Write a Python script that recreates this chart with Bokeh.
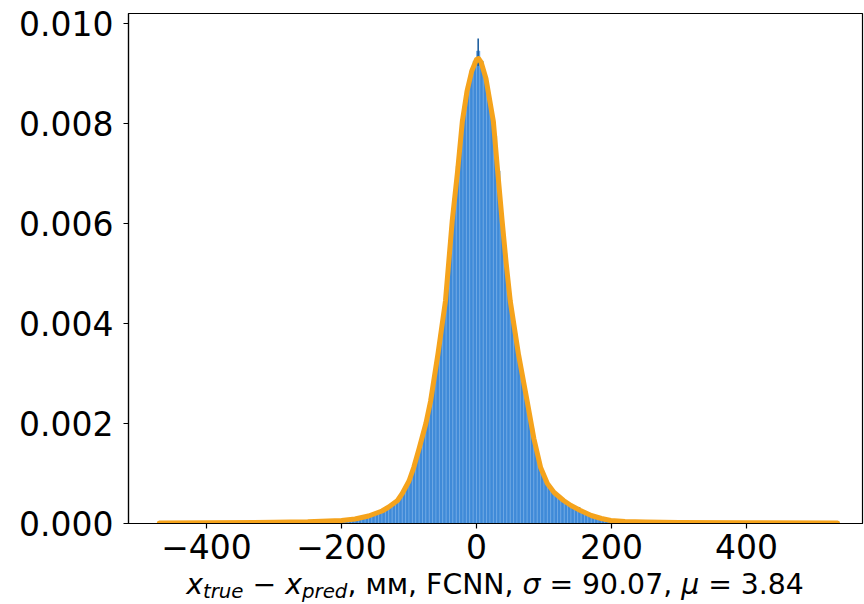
import numpy as np
from bokeh.plotting import figure
from bokeh.models import Range1d, FixedTicker, PrintfTickFormatter, Div, ColumnDataSource
from bokeh.layouts import column
from bokeh.embed import file_html
from bokeh.resources import INLINE

# ---- data ----
bin_start = -470.0
bin_width = 5.0
density = [
    0.00001, 0.00001, 0.00002, 0.00001, 0.00001, 0.00002, 0.00001, 0.00002, 0.00001, 0.00002,
    0.00002, 0.00001, 0.00002, 0.00002, 0.00001, 0.00002, 0.00002, 0.00002, 0.00001, 0.00002,
    0.00002, 0.00002, 0.00002, 0.00002, 0.00003, 0.00002, 0.00002, 0.00003, 0.00002, 0.00003,
    0.00003, 0.00002, 0.00003, 0.00003, 0.00003, 0.00003, 0.00003, 0.00003, 0.00004, 0.00003,
    0.00004, 0.00004, 0.00004, 0.00004,
    0.00004, 0.00004, 0.00004, 0.00005, 0.00005, 0.00005, 0.00005, 0.00006, 0.00006, 0.00006,
    0.00007, 0.00007, 0.00008, 0.00009, 0.00010, 0.00011, 0.00013, 0.00014, 0.00016, 0.00018,
    0.00021, 0.00023, 0.00027, 0.00031, 0.00035, 0.00040, 0.00046, 0.00055, 0.00064, 0.00076,
    0.00093, 0.00112, 0.00135, 0.00160, 0.00185, 0.00215, 0.00250, 0.00290, 0.00335, 0.00380,
    0.00430, 0.00495, 0.00580, 0.00650, 0.00715, 0.00785, 0.00835, 0.00875, 0.00905, 0.00925,
    0.00945, 0.00925, 0.00895, 0.00862, 0.00825, 0.00775, 0.00705, 0.00615, 0.00540, 0.00475,
    0.00420, 0.00380, 0.00340, 0.00295, 0.00260, 0.00225, 0.00190, 0.00155, 0.00125, 0.00100,
    0.00088, 0.00072, 0.00063, 0.00057, 0.00052, 0.00047, 0.00043, 0.00038, 0.00034, 0.00030,
    0.00027, 0.00023, 0.00020, 0.00017, 0.00014, 0.00012, 0.00010, 0.00009, 0.00007, 0.00006,
    0.00006, 0.00005, 0.00005, 0.00004, 0.00004, 0.00004, 0.00003, 0.00003, 0.00003, 0.00003,
    0.00003, 0.00003, 0.00002, 0.00003, 0.00002, 0.00002, 0.00003, 0.00002, 0.00002, 0.00002,
    0.00002, 0.00002, 0.00002, 0.00002, 0.00002, 0.00001, 0.00002, 0.00002, 0.00002, 0.00001,
    0.00002, 0.00001, 0.00002, 0.00001, 0.00001, 0.00002, 0.00001, 0.00001, 0.00002, 0.00001,
    0.00001, 0.00001, 0.00001, 0.00002, 0.00001, 0.00001, 0.00001, 0.00001, 0.00001, 0.00001,
    0.00001, 0.00001, 0.00000, 0.00001, 0.00001, 0.00001, 0.00000, 0.00001, 0.00001, 0.00001,
    0.00001, 0.00000, 0.00001, 0.00001, 0.00000, 0.00001, 0.00001,
]

fit_x = [-470, -400, -300, -250, -200, -180, -160, -140, -130, -117, -110, -100, -93, -85,
         -75, -68, -57, -46, -36, -28, -21, -14, -7, 0, 3, 7, 14, 25, 31, 38, 44, 50, 62,
         75, 85, 95, 105, 115, 129, 140, 154, 170, 185, 199, 220, 250, 300, 400, 535]
fit_y = [0.00001, 0.000015, 0.000025, 0.000035, 0.00006, 0.00009, 0.00015, 0.00025, 0.00033,
         0.00046, 0.00060, 0.00085, 0.00112, 0.00150, 0.00200, 0.00245, 0.00340, 0.00445,
         0.00605, 0.00705, 0.00804, 0.00865, 0.00905, 0.00928, 0.00930, 0.00922, 0.00890,
         0.00804, 0.00710, 0.00605, 0.00520, 0.00445, 0.00340, 0.00245, 0.00170, 0.00112,
         0.00080, 0.00062, 0.00046, 0.00036, 0.00026, 0.00016, 0.00010, 0.00006, 0.00004,
         0.00003, 0.00002, 0.000015, 0.00001]

err_x = [2.5, -92.5, 152.5]
err_lo = [0.00915, 0.00104, 0.00023]
err_hi = [0.00970, 0.00122, 0.00033]

x_ticks = [-400, -200, 0, 200, 400]
x_tick_labels = ["\u2212400", "\u2212200", "0", "200", "400"]
y_ticks = [0.0, 0.002, 0.004, 0.006, 0.008, 0.010]

# ---- figure ----
edges = bin_start + bin_width * np.arange(len(density) + 1)
src = ColumnDataSource(dict(left=edges[:-1], right=edges[1:], top=density,
                            bottom=[0.0] * len(density)))

p = figure(width=864, height=570, output_backend="svg", toolbar_location=None,
           x_range=Range1d(-515.6, 571.9), y_range=Range1d(0, 0.0102),
           min_border_left=128, min_border_right=2, min_border_top=13, min_border_bottom=47)
p.grid.visible = False
p.background_fill_color = "white"
p.border_fill_color = "white"
p.outline_line_color = "black"
p.outline_line_width = 1.2

p.quad(left="left", right="right", top="top", bottom="bottom", source=src,
       fill_color="#3f8ad8", line_color="#74ace8", line_width=0.6)
p.segment(x0=err_x, x1=err_x, y0=err_lo, y1=err_hi, line_color="#1f5f9f", line_width=1.6)
p.line(fit_x, fit_y, line_color="#f5a31c", line_width=5, line_join="round", line_cap="round")

font = "DejaVu Sans"
for ax in (p.xaxis[0], p.yaxis[0]):
    ax.major_label_text_font = font
    ax.major_label_text_font_size = "33px"
    ax.major_label_text_color = "black"
    ax.axis_line_color = "black"
    ax.axis_line_width = 1.2
    ax.major_tick_line_color = "black"
    ax.major_tick_line_width = 1.2
    ax.major_tick_in = 0
    ax.major_tick_out = 5
    ax.minor_tick_line_color = None

p.xaxis.ticker = FixedTicker(ticks=x_ticks)
p.xaxis.major_label_overrides = {t: l for t, l in zip(x_ticks, x_tick_labels)}
p.xaxis.major_label_standoff = 5
p.yaxis.ticker = FixedTicker(ticks=y_ticks)
p.yaxis.formatter = PrintfTickFormatter(format="%.3f")
p.yaxis.major_label_standoff = 10

sub_style = "font-size:0.7em;line-height:0;vertical-align:-0.18em;font-style:italic;"
label_html = (
    '<div style="width:734px;margin-left:128px;padding-top:0px;text-align:center;'
    'font-family:\'DejaVu Sans\';font-size:28.3px;line-height:30px;color:black;white-space:nowrap;">'
    '<i>x</i><span style="' + sub_style + '">true</span> \u2212 '
    '<i>x</i><span style="' + sub_style + '">pred</span>, мм, FCNN, '
    '<i>\u03c3</i> = 90.07, <i>\u03bc</i> = 3.84</div>'
)
div = Div(text=label_html, width=864, height=34, margin=(0, 0, 0, 0))

layout = column(p, div, spacing=0)
open("out.html", "w").write(file_html(layout, INLINE))
